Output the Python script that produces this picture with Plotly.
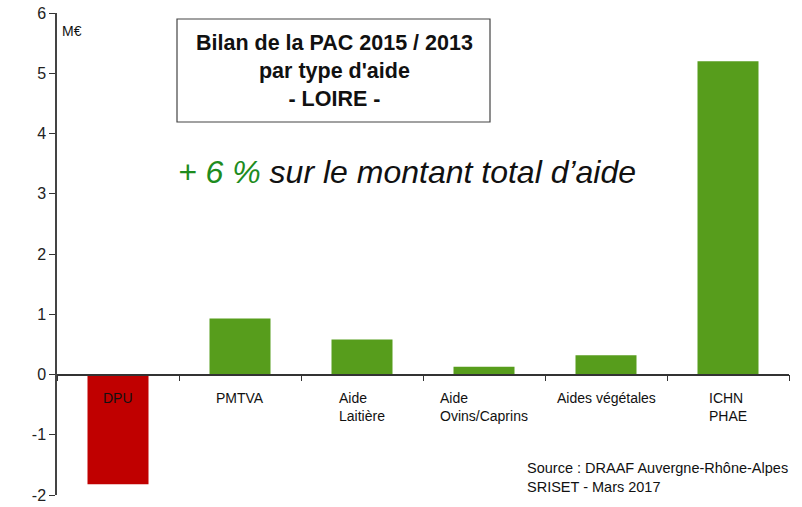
import plotly.graph_objects as go

categories = ["DPU", "PMTVA", "Aide Laitière", "Aide Ovins/Caprins", "Aides végétales", "ICHN PHAE"]
tick_labels = ["DPU", "PMTVA", "Aide<br>Laitière", "Aide<br>Ovins/Caprins", "Aides végétales", "ICHN<br>PHAE"]
values = [-1.82, 0.93, 0.58, 0.13, 0.32, 5.2]
colors = ["#C00000" if v < 0 else "#579D1C" for v in values]
y_ticks = [-2, -1, 0, 1, 2, 3, 4, 5, 6]
y_tick_text = ["-2", "-1", "0", "1", "2", "3", "4", "5", "6"]

FONT = "Liberation Sans, Arial, sans-serif"

fig = go.Figure(go.Bar(x=categories, y=values, marker=dict(color=colors, line=dict(width=0)), width=0.5))

fig.update_layout(
    width=802, height=507,
    margin=dict(l=57, r=13, t=13, b=12, autoexpand=False),
    plot_bgcolor="white", paper_bgcolor="white",
    font=dict(family=FONT, color="#222"),
    showlegend=False,
    bargap=0.5,
)
fig.update_yaxes(
    range=[-2, 6], tickvals=y_ticks, ticktext=y_tick_text, ticks="outside", ticklen=6, tickcolor="#333",
    showline=True, linecolor="#444", linewidth=1.5, showgrid=False, zeroline=False, automargin=False,
    tickfont=dict(size=16, family=FONT, color="#222"),
)
fig.update_xaxes(
    anchor="free", position=0.25, showline=True, linecolor="#333", linewidth=1.5,
    ticks="outside", tickson="boundaries", ticklen=6, tickcolor="#333", automargin=False,
    showticklabels=False, showgrid=False, range=[-0.5, 5.5],
)

for cat, lab in zip(categories, tick_labels):
    fig.add_annotation(x=cat, y=-0.22, xref="x", yref="y", text=lab, showarrow=False,
                       align="left", xanchor="center", yanchor="top",
                       font=dict(size=14, family=FONT, color="#111"))

fig.add_annotation(x=0.004, y=5.7, xref="paper", yref="y", text="M€", showarrow=False,
                   xanchor="left", yanchor="middle", font=dict(size=14, family=FONT, color="#111"))

fig.add_shape(type="rect", xref="paper", yref="paper",
              x0=(177 - 57) / 732, x1=(490 - 57) / 732,
              y0=(495 - 122) / 482, y1=(495 - 19) / 482,
              line=dict(color="#444", width=1.2), fillcolor="white")
fig.add_annotation(x=(334 - 57) / 732, y=(495 - 71) / 482, xref="paper", yref="paper",
                   text="<b>Bilan de la PAC 2015 / 2013<br>par type d'aide<br>- LOIRE -</b>",
                   showarrow=False, xanchor="center", yanchor="middle", align="center",
                   font=dict(size=21.5, family=FONT, color="#111"))

fig.add_annotation(x=(176 - 57) / 732, y=(495 - 172) / 482, xref="paper", yref="paper",
                   text="<span style='color:#1E8C1E'>+ 6 %</span> sur le montant total d’aide",
                   showarrow=False, xanchor="left", yanchor="middle",
                   font=dict(size=32, family=FONT, color="#111", style="italic"))

fig.add_annotation(x=(525 - 57) / 732, y=(495 - 477) / 482, xref="paper", yref="paper",
                   text="Source : DRAAF Auvergne-Rhône-Alpes<br>SRISET - Mars 2017",
                   showarrow=False, xanchor="left", yanchor="middle", align="left",
                   font=dict(size=14.5, family=FONT, color="#111"))

fig.write_html("out.html", config={"displayModeBar": False},
               post_script="document.body.style.margin='0';document.body.style.padding='0';")
